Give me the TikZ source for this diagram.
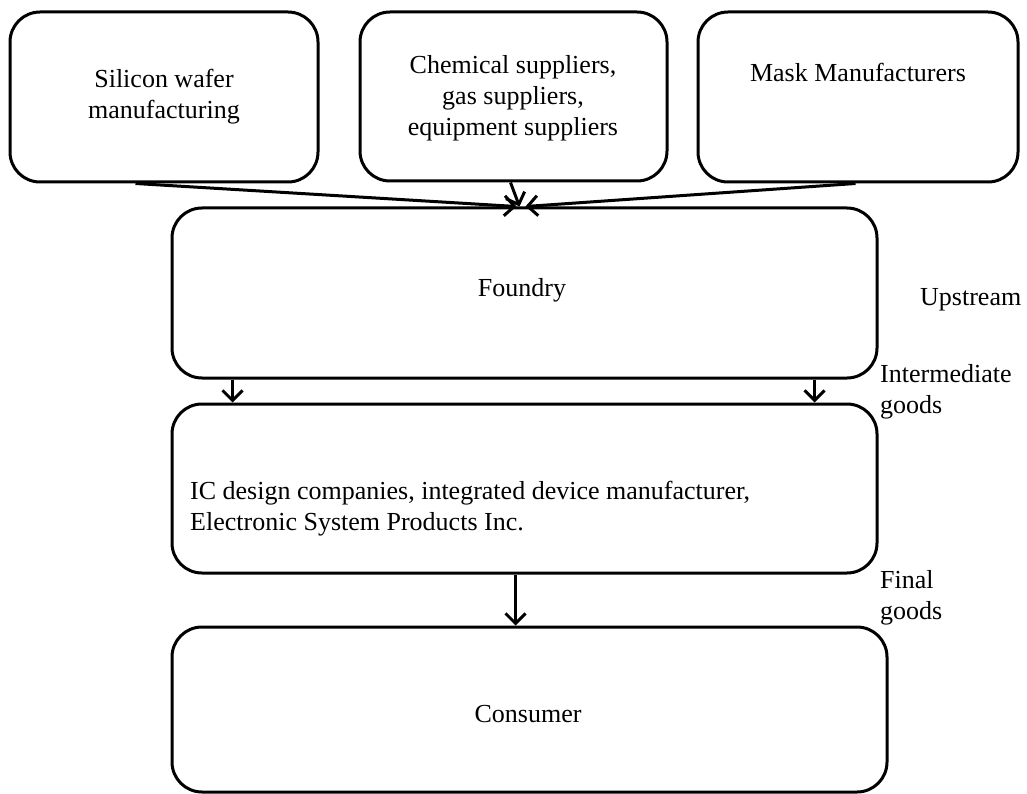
\documentclass[tikz,border=0pt]{standalone}
\usepackage{fontspec}
\setmainfont{Liberation Serif}
\usetikzlibrary{arrows.meta,calc}
\begin{document}
\begin{tikzpicture}[x=1pt,y=-1pt,
  box/.style={draw,line width=3pt,rounded corners=30pt,inner sep=0pt},
  txt/.style={font=\fontsize{26}{31}\selectfont,align=center,inner sep=0pt},
  side/.style={font=\fontsize{26}{31}\selectfont,align=left,inner sep=0pt,anchor=west},
  arr/.style={line width=3pt,-{Straight Barb[length=10pt,width=20pt]}}]
\useasboundingbox (0,0) rectangle (1027,794);
% supplier boxes
\node[box,minimum width=308pt,minimum height=170pt] (sil) at (164,97) {};
\node[box,minimum width=307pt,minimum height=169pt] (chem) at (513.5,96.5) {};
\node[box,minimum width=320pt,minimum height=170pt] (mask) at (858,97) {};
% chain boxes
\node[box,minimum width=705pt,minimum height=170pt] (fdy) at (524.5,293) {};
\node[box,minimum width=705pt,minimum height=169pt] (ic) at (524.5,488.5) {};
\node[box,minimum width=715pt,minimum height=165pt] (cons) at (529.5,709.5) {};
% box texts
\node[txt] (silt) at (164,97) {Silicon wafer\\manufacturing};
\node[txt] (chemt) at (513,98) {Chemical suppliers,\\gas suppliers,\\equipment suppliers};
\node[txt] (maskt) at (858,72) {Mask Manufacturers};
\node[txt] (fdyt) at (522,290) {Foundry};
\node[txt,align=left,anchor=west] (ict) at (190,509) {IC design companies, integrated device manufacturer,\\Electronic System Products Inc.};
\node[txt] (const) at (528,714) {Consumer};
% stage labels
\node[side] (up) at (920,300) {Upstream};
\node[side] (mid) at (880,392) {Intermediate\\goods};
\node[side] (fin) at (880,598) {Final\\goods};
% arrows
\draw[arr] ($(sil.south west)+(127,0)$) -- ($(fdy.north west)+(346,0)$);
\draw[arr] ($(chem.south west)+(152,0)$) -- ($(fdy.north west)+(349,0)$);
\draw[arr] ($(mask.south west)+(159,0)$) -- ($(fdy.north west)+(355,0)$);
\draw[arr] ($(fdy.south west)+(62,0)$) -- ($(ic.north west)+(62,0)$);
\draw[arr] ($(fdy.south west)+(644,0)$) -- ($(ic.north west)+(644,0)$);
\draw[arr] ($(ic.south west)+(345,0)$) -- ($(cons.north west)+(345,0)$);
\end{tikzpicture}
\end{document}
